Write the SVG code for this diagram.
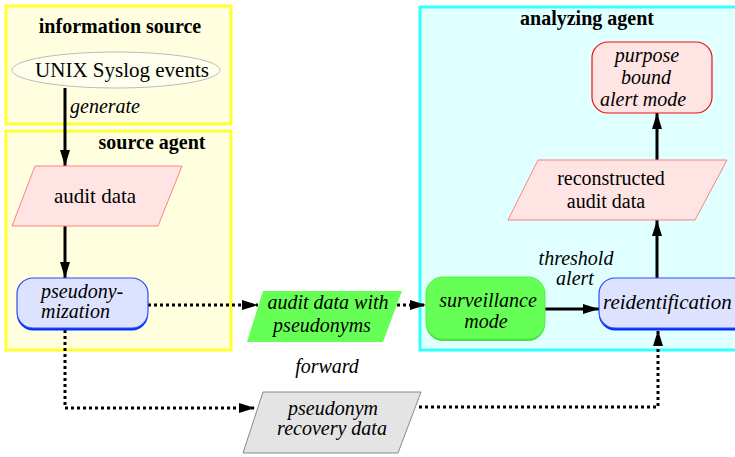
<svg xmlns="http://www.w3.org/2000/svg" width="735" height="457" viewBox="0 0 735 457">
<defs>
<style>
.t{font-family:"Liberation Serif","Times New Roman",serif;font-size:20px;fill:#000;stroke:none}
.b{font-weight:bold}
.i{font-style:italic}
.m{text-anchor:middle}
.ln{stroke:#000;stroke-width:3;fill:none}
.dot{stroke:#000;stroke-width:3;fill:none;stroke-dasharray:3 3}
.pink{fill:#ffe4e4;stroke:#ff8080;stroke-width:1}
.blue{fill:#dde3ff;stroke:#2a4cff;stroke-width:1.2}
.blueS{fill:#0030ff}
</style>
<marker id="ah" viewBox="0 0 16 10" refX="16" refY="5" markerWidth="16" markerHeight="10" markerUnits="userSpaceOnUse" orient="auto">
<path d="M0,0 L16,5 L0,10 z" fill="#000"/>
</marker>
</defs>
<g id="information-source">
<rect x="6" y="6" width="225" height="118" fill="#ffffe0" stroke="#ffff33" stroke-width="3"/>
<text class="t b m" x="120" y="33">information source</text>
</g>
<g id="source-agent">
<rect x="6" y="131" width="225" height="219" fill="#ffffe0" stroke="#ffff33" stroke-width="3"/>
<text class="t b m" x="152" y="149">source agent</text>
</g>
<g id="analyzing-agent">
<rect x="420" y="7" width="330" height="343" fill="#e0ffff" stroke="#33ffff" stroke-width="3"/>
<text class="t b m" x="587" y="25">analyzing agent</text>
</g>
<g id="connectors">
<line class="ln" x1="65" y1="88" x2="65" y2="166" marker-end="url(#ah)"/>
<line class="ln" x1="65" y1="226" x2="65" y2="278" marker-end="url(#ah)"/>
<line class="dot" x1="148" y1="305" x2="258" y2="305" marker-end="url(#ah)"/>
<line class="dot" x1="397" y1="305" x2="426" y2="305" marker-end="url(#ah)"/>
<polyline class="dot" points="65,330 65,408 255,408" marker-end="url(#ah)"/>
<polyline class="dot" points="419,407 658,407 658,330" marker-end="url(#ah)"/>
<line class="ln" x1="545" y1="309" x2="599" y2="309" marker-end="url(#ah)"/>
<line class="ln" x1="657" y1="278" x2="657" y2="220" marker-end="url(#ah)"/>
<line class="ln" x1="657" y1="160" x2="657" y2="113" marker-end="url(#ah)"/>
<text class="t i" x="70" y="113">generate</text>
<text class="t i m" x="327" y="373">forward</text>
<text class="t i m" x="576" y="265">threshold</text>
<text class="t i m" x="575" y="285">alert</text>
</g>
<g id="unix-syslog-events">
<ellipse cx="116" cy="70" rx="104" ry="18" fill="#ffffee" stroke="#bbbbbb" stroke-width="1"/>
<text class="t m" style="font-size:21px" x="122" y="77">UNIX Syslog events</text>
</g>
<g id="audit-data">
<polygon class="pink" points="35,166 182,166 158,226 12,226"/>
<text class="t m" style="font-size:21px" x="95" y="203">audit data</text>
</g>
<g id="pseudonymization">
<rect class="blueS" x="17" y="280.5" width="131" height="50" rx="16"/>
<rect class="blue" x="17" y="278" width="131" height="50" rx="16"/>
<text class="t i" x="41" y="298">pseudony-</text>
<text class="t i" x="41" y="318">mization</text>
</g>
<g id="audit-data-with-pseudonyms">
<polygon points="263,291 402,291 383,342 247,342" fill="#66ff55"/>
<text class="t i m" x="328" y="309">audit data with</text>
<text class="t i m" x="322" y="332">pseudonyms</text>
</g>
<g id="pseudonym-recovery-data">
<polygon points="263,392 421,392 398,453 243,453" fill="#e4e4e4" stroke="#888888" stroke-width="1"/>
<text class="t i m" x="333" y="415">pseudonym</text>
<text class="t i m" x="332" y="435">recovery data</text>
</g>
<g id="surveillance-mode">
<rect x="426" y="279" width="119" height="62" rx="17" fill="#44dd33"/>
<rect x="426" y="277" width="119" height="62" rx="17" fill="#66ff55" stroke="#55ee44" stroke-width="1"/>
<text class="t i m" x="488" y="307">surveillance</text>
<text class="t i m" x="486" y="328">mode</text>
</g>
<g id="reidentification">
<rect class="blueS" x="599" y="280.5" width="150" height="50" rx="16"/>
<rect class="blue" x="599" y="278" width="150" height="50" rx="16"/>
<text class="t i" style="font-size:21px" x="603" y="309">reidentification</text>
</g>
<g id="reconstructed-audit-data">
<polygon class="pink" points="538,160 727,160 695,220 508,220"/>
<text class="t m" x="611" y="185">reconstructed</text>
<text class="t m" x="606" y="208">audit data</text>
</g>
<g id="purpose-bound-alert-mode">
<rect x="592" y="42" width="120" height="71" rx="16" fill="#ffe4e4" stroke="#ee1111" stroke-width="1.2"/>
<text class="t i m" x="647" y="62">purpose</text>
<text class="t i m" x="646" y="84">bound</text>
<text class="t i m" x="643" y="106">alert mode</text>
</g>
</svg>
